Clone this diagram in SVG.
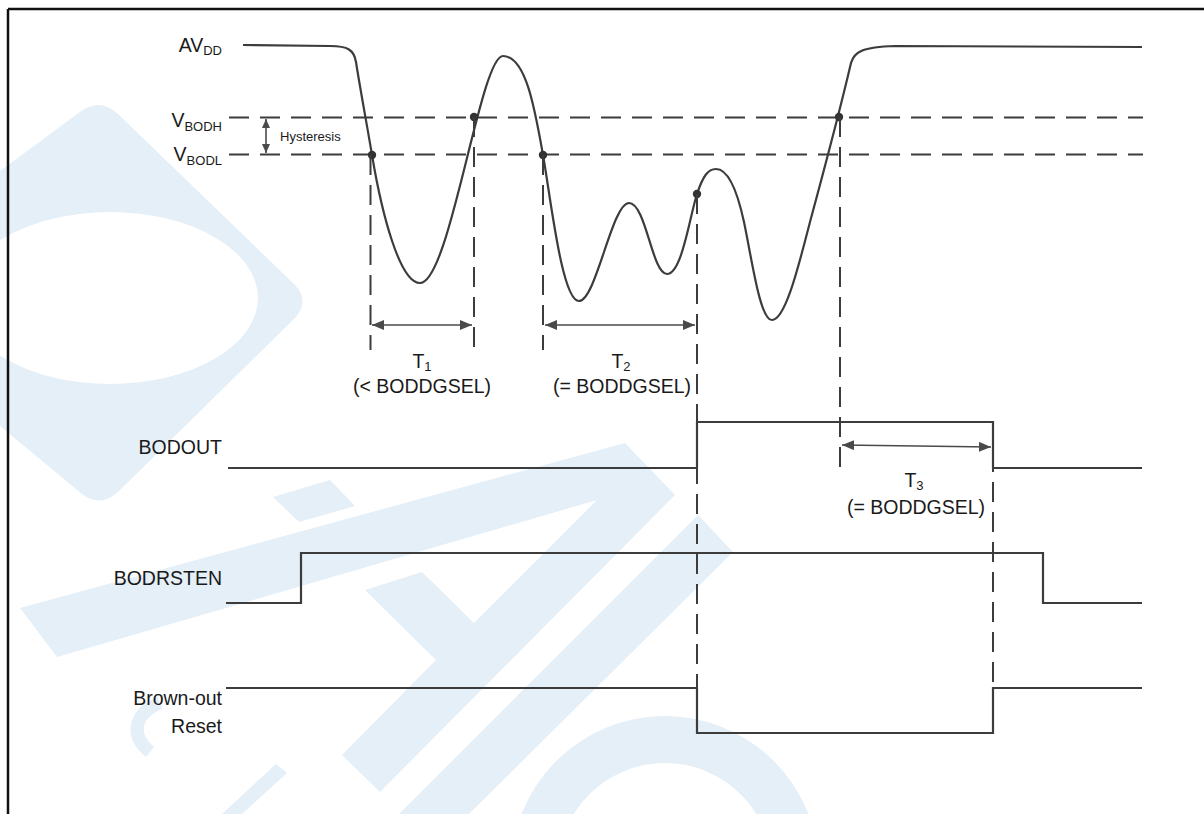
<svg xmlns="http://www.w3.org/2000/svg" width="1204" height="814" viewBox="0 0 1204 814">
<style>
  .wm { fill: #e4eff8; stroke: none; }
  .lbl { font-family: "Liberation Sans", Arial, sans-serif; font-size: 19.5px; fill: #1a1a1a; }
  .sub { font-size: 13px; }
  .small { font-family: "Liberation Sans", Arial, sans-serif; font-size: 13px; fill: #1a1a1a; }
  .wave { fill: none; stroke: #3c3c3c; stroke-width: 2.2; stroke-linejoin: round; }
  .sig { fill: none; stroke: #3c3c3c; stroke-width: 2.2; stroke-linejoin: miter; }
  .hdash { fill: none; stroke: #3c3c3c; stroke-width: 2.2; stroke-dasharray: 20 11; }
  .vdash { fill: none; stroke: #3c3c3c; stroke-width: 2; stroke-dasharray: 20 10; }
  .dim { fill: none; stroke: #4a4a4a; stroke-width: 1.6; marker-start: url(#ah); marker-end: url(#ah); }
  .dot { fill: #333333; }
  .frame { stroke: #111111; stroke-width: 2.5; fill: none; }
</style>
<defs>
  <marker id="ah" viewBox="0 0 12 10" refX="12" refY="5" markerWidth="12" markerHeight="10" markerUnits="userSpaceOnUse" orient="auto-start-reverse">
    <path d="M0,0 L12,5 L0,10 Z" fill="#4a4a4a"/>
  </marker>
  <marker id="ahs" viewBox="0 0 9 8" refX="9" refY="4" markerWidth="9" markerHeight="8" markerUnits="userSpaceOnUse" orient="auto-start-reverse">
    <path d="M0,0 L9,4 L0,8 Z" fill="#4a4a4a"/>
  </marker>
</defs>
<rect x="0" y="0" width="1204" height="814" fill="#ffffff"/>

<g id="watermark">
  <path class="wm" fill-rule="evenodd" d="M0,171 L80,112 Q100,97 118,114 L295,285 Q310,301 295,318 L118,492 Q100,508 82,494 L0,426 Z M258,298 A148,86 0 1 0 -38,298 A148,86 0 1 0 258,298 Z"/>
  <polygon class="wm" points="20,608 625,443 675,495 380,792 342,755 436,660 474,623 597,500 57,657"/>
  <polygon class="wm" points="365,590 422,572 474,623 436,660"/>
  <polygon class="wm" points="698,515 733,552 469,814 399,814"/>
  <polygon class="wm" points="273,497 330,480 355,506 299,522"/>
  <path class="wm" fill-rule="evenodd" d="M511,870 A154,154 0 1 1 819,870 A154,154 0 1 1 511,870 Z M558,870 A107,107 0 1 0 772,870 A107,107 0 1 0 558,870 Z"/>
  <polygon class="wm" points="222,814 276,764 287,773 242,814"/>
  <path d="M160,703 C136,712 128,734 150,752" fill="none" stroke="#e4eff8" stroke-width="13"/>
</g>

<g id="frame">
  <line class="frame" x1="8" y1="9" x2="1204" y2="9"/>
  <line class="frame" x1="8" y1="9" x2="8" y2="814"/>
</g>

<g id="vbodh">
  <text class="lbl" x="222" y="127" text-anchor="end">V<tspan class="sub" dy="4">BODH</tspan></text>
  <line class="hdash" x1="229" y1="117.5" x2="1143" y2="117.5"/>
</g>

<g id="vbodl">
  <text class="lbl" x="222" y="161" text-anchor="end">V<tspan class="sub" dy="4">BODL</tspan></text>
  <line class="hdash" x1="229" y1="154.5" x2="1143" y2="154.5"/>
</g>

<g id="hysteresis">
  <line x1="266" y1="119" x2="266" y2="153" stroke="#4a4a4a" stroke-width="1.6" marker-start="url(#ahs)" marker-end="url(#ahs)"/>
  <text class="small" x="280" y="141">Hysteresis</text>
</g>

<g id="avdd">
  <text class="lbl" x="222" y="52" text-anchor="end">AV<tspan class="sub" dy="3">DD</tspan></text>
  <path class="wave" d="M243,45 L330,46 C348,46 354,50 356,62 C360,88 367,125 372,155 C382,215 400,283 420,283 C450,283 480,56 503,56 C526,56 535,110 543,155 C551,200 562,301 579,301 C596,301 612,203 629,203 C646,203 652,274 667,274 C682,274 690,215 697,194 C703,176 708,169 716,169 C726,169 736,185 744,222 C752,260 760,320 772,320 C786,320 800,260 810,222 C820,185 840,110 851,63 C854,52 862,47 895,46 L1142,47"/>
  <circle class="dot" cx="372" cy="155" r="4.2"/>
  <circle class="dot" cx="474" cy="117" r="4.2"/>
  <circle class="dot" cx="543" cy="155" r="4.2"/>
  <circle class="dot" cx="697" cy="194" r="4.2"/>
  <circle class="dot" cx="839" cy="117" r="4.2"/>
</g>

<g id="bodout">
  <text class="lbl" x="222" y="454" text-anchor="end">BODOUT</text>
  <path class="sig" d="M228,468 L697,468 L697,422 L993,422 L993,468 L1142,468"/>
</g>

<g id="bodrsten">
  <text class="lbl" x="222" y="585" text-anchor="end">BODRSTEN</text>
  <path class="sig" d="M226,603 L301,603 L301,553 L1043,553 L1043,603 L1142,603"/>
</g>

<g id="brownout-reset">
  <text class="lbl" x="222" y="705" text-anchor="end">Brown-out</text>
  <text class="lbl" x="222" y="733" text-anchor="end">Reset</text>
  <path class="sig" d="M226,688 L697,688 L697,733 L993,733 L993,688 L1142,688"/>
</g>

<g id="t1">
  <text class="lbl" x="422" y="368" text-anchor="middle">T<tspan class="sub" dy="3">1</tspan></text>
  <text class="lbl" x="422" y="393" text-anchor="middle">(&lt; BODDGSEL)</text>
</g>

<g id="t2">
  <text class="lbl" x="621" y="368" text-anchor="middle">T<tspan class="sub" dy="3">2</tspan></text>
  <text class="lbl" x="622" y="393" text-anchor="middle">(= BODDGSEL)</text>
</g>

<g id="t3">
  <text class="lbl" x="914" y="487" text-anchor="middle">T<tspan class="sub" dy="3">3</tspan></text>
  <text class="lbl" x="916" y="514" text-anchor="middle">(= BODDGSEL)</text>
</g>

<g id="connectors">
  <line class="vdash" x1="370.5" y1="155" x2="370.5" y2="350"/>
  <line class="vdash" x1="474" y1="117" x2="474" y2="350"/>
  <line class="vdash" x1="543" y1="155" x2="543" y2="350"/>
  <line class="vdash" x1="697" y1="194" x2="697" y2="733"/>
  <line class="vdash" x1="840" y1="117" x2="840" y2="468"/>
  <line class="vdash" x1="993" y1="422" x2="993" y2="733"/>
  <line class="dim" x1="372" y1="325" x2="472" y2="325"/>
  <line class="dim" x1="545" y1="325" x2="695" y2="325"/>
  <line class="dim" x1="842" y1="445" x2="991" y2="447"/>
</g>
</svg>
